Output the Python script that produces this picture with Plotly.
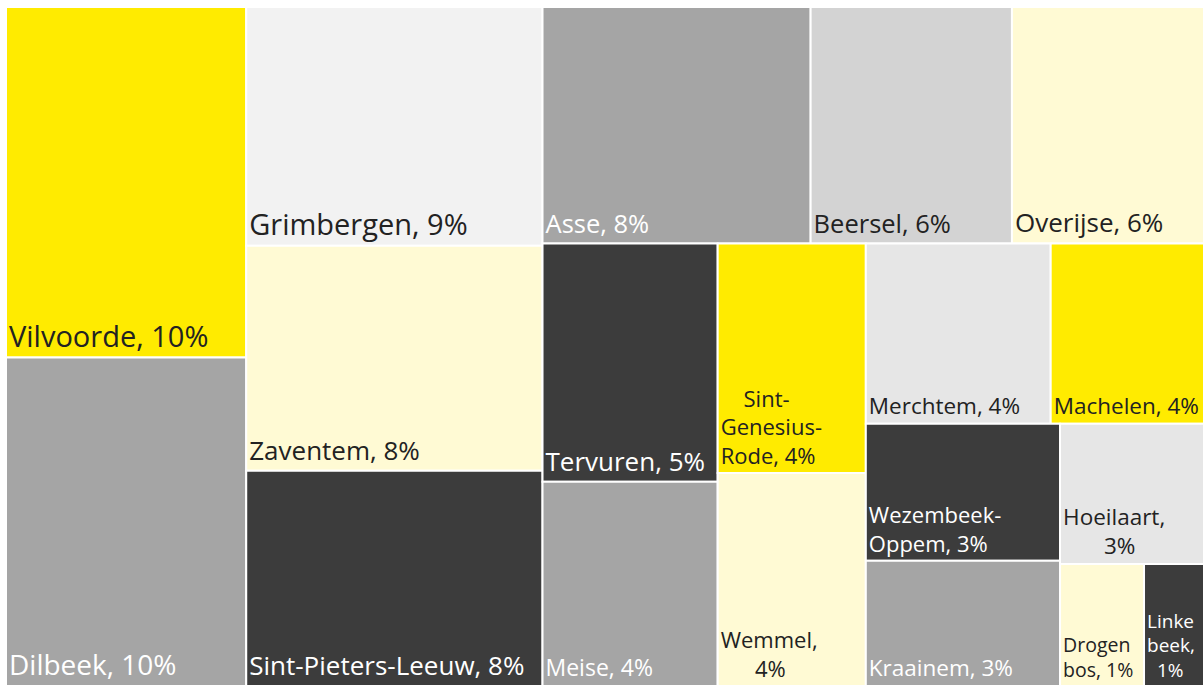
import plotly.graph_objects as go

names = ["Vilvoorde", "Dilbeek", "Grimbergen", "Zaventem", "Sint-Pieters-Leeuw",
         "Asse", "Beersel", "Overijse", "Tervuren", "Meise",
         "Sint-Genesius-Rode", "Wemmel", "Merchtem", "Machelen",
         "Wezembeek-Oppem", "Kraainem", "Hoeilaart", "Drogenbos", "Linkebeek"]
shares = [10.35, 9.70, 8.70, 8.19, 7.84,
          7.79, 5.85, 5.58, 5.13, 4.40,
          4.18, 3.88, 4.10, 3.40,
          3.27, 2.99, 2.48, 1.26, 0.90]
rounded = [10, 10, 9, 8, 8, 8, 6, 6, 5, 4, 4, 4, 4, 4, 3, 3, 3, 1, 1]
display = ["Vilvoorde", "Dilbeek", "Grimbergen", "Zaventem", "Sint-Pieters-Leeuw",
           "Asse", "Beersel", "Overijse", "Tervuren", "Meise",
           "&nbsp;&nbsp;&nbsp;&nbsp;Sint-<br>Genesius-<br>Rode,", "Wemmel,<br>&nbsp;&nbsp;&nbsp;&nbsp;&nbsp;&nbsp;",
           "Merchtem", "Machelen",
           "Wezembeek-<br>Oppem,", "Kraainem", "Hoeilaart,<br>&nbsp;&nbsp;&nbsp;&nbsp;&nbsp;&nbsp;&nbsp;",
           "Drogen<br>bos,", "Linke<br>beek,<br>&nbsp;&nbsp;"]
colors = ["#FFEB00", "#A5A5A5", "#F2F2F2", "#FFFAD4", "#3C3C3C",
          "#A5A5A5", "#D3D3D3", "#FFFAD4", "#3C3C3C", "#A5A5A5",
          "#FFEB00", "#FFFAD4", "#E6E6E6", "#FFEB00",
          "#3C3C3C", "#A5A5A5", "#E6E6E6", "#FFFAD4", "#3C3C3C"]
text_colors = ["#222222", "#FFFFFF", "#222222", "#222222", "#FFFFFF",
               "#FFFFFF", "#222222", "#222222", "#FFFFFF", "#FFFFFF",
               "#222222", "#222222", "#222222", "#222222",
               "#FFFFFF", "#FFFFFF", "#222222", "#222222", "#FFFFFF"]
font_sizes = [29, 28, 29, 26, 26, 25.5, 25.5, 26, 26, 23,
              22, 22, 22.5, 22.5, 22, 22.5, 22.5, 19.5, 19]

labels_text = []
for d, r in zip(display, rounded):
    if d.endswith(","):
        labels_text.append(f"{d} {r}%")
    elif d.endswith(";"):
        labels_text.append(f"{d}{r}%")
    else:
        labels_text.append(f"{d}, {r}%")

fig = go.Figure(go.Treemap(
    labels=names,
    parents=[""] * len(names),
    values=shares,
    text=labels_text,
    texttemplate="%{text}",
    textposition="bottom left",
    textfont=dict(family="Open Sans", size=font_sizes, color=text_colors),
    marker=dict(colors=colors, line=dict(color="#FFFFFF", width=2), pad=dict(t=0, l=0, r=0, b=0)),
    sort=False,
    tiling=dict(packing="squarify", squarifyratio=1, pad=0),
    pathbar=dict(visible=False),
    hoverinfo="skip",
))
fig.update_layout(
    width=1204, height=686,
    margin=dict(l=6, r=0, t=7, b=0),
    paper_bgcolor="#FFFFFF",
)
fig.write_html("out.html", config={"displayModeBar": False},
               post_script="document.body.style.margin='0';")
